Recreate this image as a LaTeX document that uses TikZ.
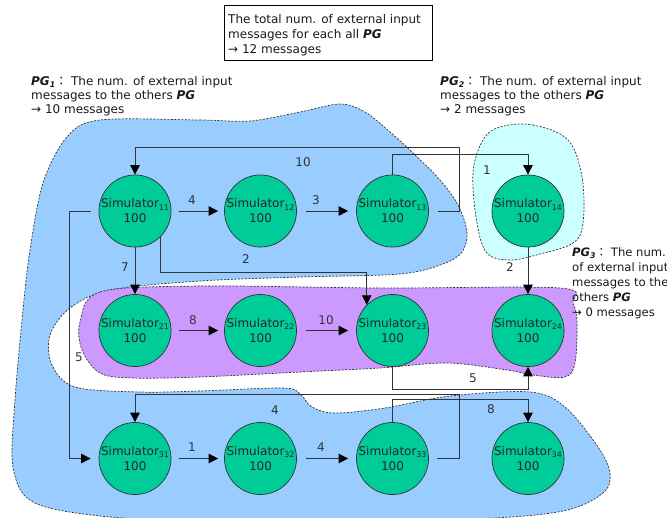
\documentclass[tikz,border=0pt]{standalone}
\usepackage{fontspec}
\setmainfont{DejaVu Sans}
\newfontfamily\cjkfont{Noto Sans CJK KR}
\usetikzlibrary{arrows.meta}

\definecolor{pgblue}{HTML}{99CCFF}
\definecolor{pgcyan}{HTML}{CCFFFF}
\definecolor{pgviolet}{HTML}{CC99FF}
\definecolor{simgreen}{HTML}{00CC99}
\definecolor{inkgray}{HTML}{333333}

% partition-group name with a bold italic subscript
\newcommand\pgname[1]{{\bfseries\itshape PG\raisebox{-2pt}{\fontsize{7.8}{7.8}\selectfont #1}}}
\newcommand\pgbold{{\bfseries\itshape PG}}
\newcommand\pgcolon{{\cjkfont ：}}
% two-line simulator label: name with index, then its load
\newcommand\simlabel[1]{Simulator\raisebox{-2.5pt}{\fontsize{7.8}{7.8}\selectfont #1}\\100}

\begin{document}
\begin{tikzpicture}[x=1pt,y=-1pt,
  sim/.style={circle, draw=inkgray, line width=0.7pt, fill=simgreen,
    minimum size=68pt, inner sep=0pt, align=center, text=black!85,
    font=\fontsize{12}{15}\selectfont},
  conn/.style={draw=inkgray, line width=0.8pt,
    -{Triangle[length=9.5pt,width=9.5pt,color=black]}},
  blob/.style={draw=inkgray, line width=0.7pt, dash pattern=on 2pt off 1.5pt},
  lbl/.style={font=\fontsize{12}{14}\selectfont, text=inkgray, inner sep=0pt},
  note/.style={font=\fontsize{12}{14}\selectfont, align=left, inner sep=0pt,
    anchor=north west, text=black!90}
]
\useasboundingbox (0,0) rectangle (667,517);

% partition groups
\path[blob, fill=pgblue] plot[smooth cycle, tension=0.55] coordinates {
  (100,120) (200,120) (250,121) (300,112) (340,104) (365,112) (390,132)
  (412,152) (440,180) (458,205) (467,232) (462,252) (443,264) (400,274)
  (300,277) (200,281) (110,290) (70,308) (50,335) (52,365) (75,387)
  (140,392) (200,391) (283,388) (300,394) (312,407) (335,413) (385,408)
  (450,396) (530,392) (565,407) (598,447) (610,473) (603,493) (563,511)
  (473,519) (300,521) (200,521) (100,516) (33,502) (13,467) (15,400)
  (23,310) (30,250) (43,183) (67,137)};
\path[blob, fill=pgcyan] plot[smooth cycle, tension=0.6] coordinates {
  (500,127) (533,125) (568,140) (582,177) (583,223) (573,243) (540,254)
  (510,260) (487,253) (477,223) (473,173) (483,140)};
\path[blob, fill=pgviolet] plot[smooth cycle, tension=0.55] coordinates {
  (80,322) (100,292) (200,286) (380,288) (560,288) (573,303) (577,323)
  (575,363) (565,377) (533,375) (507,370) (447,363) (380,368) (300,372)
  (200,377) (133,378) (100,373) (82,350)};

% notes
\draw[line width=0.7pt] (224,5) rectangle (432,60);
\node[note, font=\fontsize{12}{15}\selectfont] (total) at (228,13.9)
  {The total num. of external input\\messages for each all \pgbold\\→ 12 messages};
\node[note] (pg1note) at (31,75.9)
  {\pgname{1}\pgcolon\ The num. of external input\\messages to the others \pgbold\\→ 10 messages};
\node[note] (pg2note) at (440,75.9)
  {\pgname{2}\pgcolon\ The num. of external input\\messages to the others \pgbold\\→ 2 messages};
\node[note, font=\fontsize{11.6}{15}\selectfont] (pg3note) at (572,247.2)
  {\pgname{3}\pgcolon\ The num.\\of external input\\messages to the\\others \pgbold\\→ 0 messages};

% simulators
\node[sim] (s11) at (135,211) {\simlabel{11}};
\node[sim] (s12) at (260.5,211) {\simlabel{12}};
\node[sim] (s13) at (392.5,211) {\simlabel{13}};
\node[sim] (s14) at (528,211) {\simlabel{14}};
\node[sim] (s21) at (135,330.5) {\simlabel{21}};
\node[sim] (s22) at (260.5,330.5) {\simlabel{22}};
\node[sim] (s23) at (392.5,330.5) {\simlabel{23}};
\node[sim] (s24) at (528,330.5) {\simlabel{24}};
\node[sim] (s31) at (135,458.5) {\simlabel{31}};
\node[sim] (s32) at (260.5,458.5) {\simlabel{32}};
\node[sim] (s33) at (392.5,458.5) {\simlabel{33}};
\node[sim] (s34) at (528,458.5) {\simlabel{34}};

% message flows
\draw[conn] ([xshift=8pt]s11.east) -- ([xshift=-6pt]s12.west);
\draw[conn] ([xshift=9pt]s12.east) -- ([xshift=-8pt]s13.west);
\draw[conn] ([xshift=9pt]s13.east) -- ++(22,0) |- ([yshift=27pt]s11.north) -- (s11.north);
\draw[conn] (s13.north) -- ++(0,-20) -| (s14.north);
\draw[conn] (s14.south) -- (s24.north);
\draw[conn] (s11.-45) -- ++(0,36) -| (s23.135);
\draw[conn] (s11.south) -- (s21.north);
\draw[conn] ([xshift=-8pt]s11.west) -- ++(-21,0) |- ([xshift=-8pt]s31.west);
\draw[conn] ([xshift=8pt]s21.east) -- ([xshift=-6pt]s22.west);
\draw[conn] ([xshift=9pt]s22.east) -- ([xshift=-8pt]s23.west);
\draw[conn] (s23.south) -- ++(0,23) -| (s24.south);
\draw[conn] ([xshift=8pt]s31.east) -- ([xshift=-6pt]s32.west);
\draw[conn] ([xshift=9pt]s32.east) -- ([xshift=-8pt]s33.west);
\draw[conn] ([xshift=8pt]s33.east) -- ++(23,0) |- ([yshift=28pt]s31.north) -- (s31.north);
\draw[conn] (s33.north) -- ++(0,-23) -| (s34.north);

% message counts
\node[lbl] (n1112) at (192,200) {4};
\node[lbl] (n1213) at (316,200) {3};
\node[lbl] (n1311) at (303,162) {10};
\node[lbl] (n1314) at (487,170) {1};
\node[lbl] (n1424) at (510,267) {2};
\node[lbl] (n1123) at (246,259) {2};
\node[lbl] (n1121) at (125,267) {7};
\node[lbl] (n1131) at (79,357) {5};
\node[lbl] (n2122) at (193,320) {8};
\node[lbl] (n2223) at (326,320) {10};
\node[lbl] (n2324) at (473,378) {5};
\node[lbl] (n3331) at (275,410) {4};
\node[lbl] (n3334) at (491,409) {8};
\node[lbl] (n3132) at (192,447) {1};
\node[lbl] (n3233) at (321,447) {4};
\end{tikzpicture}
\end{document}
